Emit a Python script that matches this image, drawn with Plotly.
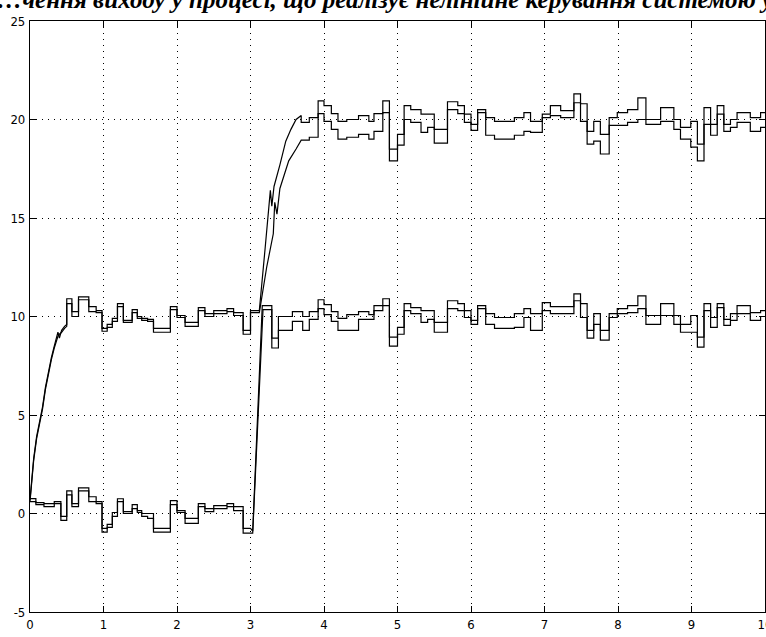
import plotly.graph_objects as go

# ---------------- data ----------------
# lower pair (around 0, then rising to 10 at t=3)
t_low_steps = [0, 0.08, 0.19, 0.33, 0.42, 0.50, 0.57, 0.66, 0.80, 0.90, 0.98, 1.05, 1.12,
               1.19, 1.27, 1.39, 1.46, 1.52, 1.60, 1.68, 1.91, 2.00, 2.11, 2.29, 2.38,
               2.50, 2.68, 2.77, 2.90, 3.00]
low_a = [0.76, 0.55, 0.5, 0.6, -0.15,
         1.15, 0.5, 1.3, 0.85, 0.6, -0.75, -0.55, 0.05, 0.75, 0.1, 0.45, 0.15, 0.0, 0.0,
         -0.75, 0.65, 0.15, -0.25, 0.5, 0.25, 0.4, 0.5, 0.35, -0.75]
low_b = [0.6, 0.45, 0.35, 0.5, -0.35,
         0.95, 0.35, 1.15, 0.6, 0.5, -0.95, -0.7, -0.15, 0.6, 0.0, 0.25, 0.05, -0.15, -0.25,
         -0.95, 0.45, 0.05, -0.5, 0.35, 0.1, 0.25, 0.35, 0.15, -1.0]
t_low_ramp_a = [3.00, 3.03, 3.16]
low_ramp_a = [-0.75, -0.9, 10.55]
t_low_ramp_b = [3.00, 3.03, 3.17]
low_ramp_b = [-1.0, -1.0, 10.35]

tail_steps = [3.92, 4.00, 4.10, 4.19, 4.31, 4.47, 4.61, 4.68, 4.80, 4.89, 5.00, 5.09, 5.18,
              5.32, 5.41, 5.50, 5.68, 5.82, 5.91, 6.00, 6.09, 6.20, 6.32, 6.59, 6.72, 6.81,
              6.97, 7.08, 7.22, 7.40, 7.49, 7.58, 7.67, 7.76, 7.88, 7.99, 8.13, 8.27, 8.38,
              8.58, 8.76, 8.85, 8.99, 9.08, 9.17, 9.26, 9.35, 9.44, 9.53, 9.62, 9.80, 9.94, 10.0]
t_mid_steps = [3.16, 3.29, 3.38, 3.57, 3.71, 3.80] + tail_steps
mid_a = [10.55, 8.9, 10.0, 10.25, 10.0, 10.25,
         10.85, 10.6, 10.25, 9.9, 10.1, 10.25, 10.1, 10.55, 10.9, 8.95,
         9.45, 10.65, 10.45, 10.3, 10.3, 9.7, 10.8, 10.65, 10.3, 9.8,
         10.55, 10.15, 9.95, 10.15, 10.4, 10.15, 10.7, 10.5, 10.5, 11.15,
         10.65, 9.3, 10.15, 9.3, 10.15, 10.4, 10.55, 11.05, 10.05, 10.65,
         10.05, 9.6, 10.05, 8.95, 10.65, 9.95, 10.65, 9.85, 10.15, 10.55,
         10.2, 10.3]
mid_b = [10.35, 8.4, 9.3, 9.75, 9.3, 9.85,
         10.4, 10.1, 9.75, 9.3, 9.3, 9.85, 9.85, 10.3, 10.55, 8.5,
         9.1, 10.3, 10.15, 9.7, 9.85, 9.2, 10.4, 10.3, 9.95, 9.6,
         10.4, 9.6, 9.4, 9.45, 9.95, 9.3, 10.3, 10.15, 10.15, 10.8,
         9.95, 8.9, 9.6, 8.8, 9.95, 10.15, 10.2, 10.4, 9.6, 10.05,
         9.6, 9.2, 9.2, 8.45, 10.3, 9.45, 10.45, 9.55, 9.8, 10.15,
         9.8, 10.0]

# upper pair (rising to 10, then to 20 at t=3)
t_up_rise = [0, 0.02, 0.05, 0.09, 0.13, 0.17, 0.21, 0.25, 0.29, 0.33, 0.36, 0.38, 0.40,
             0.43, 0.47, 0.50]
up_rise_a = [0.7, 1.6, 2.8, 3.9, 4.6, 5.4, 6.4, 7.2, 7.9, 8.5, 8.9, 9.2, 8.9, 9.3, 9.5, 9.6]
up_rise_b = [0.6, 1.5, 2.7, 3.8, 4.5, 5.3, 6.3, 7.1, 7.8, 8.4, 8.8, 9.0, 9.1, 9.2, 9.4, 9.5]
t_up_steps = [0.50, 0.57, 0.66, 0.80, 0.90, 0.98, 1.05, 1.12, 1.19, 1.27, 1.39, 1.46, 1.52,
              1.60, 1.68, 1.91, 2.00, 2.11, 2.29, 2.38, 2.50, 2.68, 2.77, 2.90, 3.00, 3.12]
up_a = [10.9, 10.25, 11.0, 10.5, 10.3, 9.4, 9.6, 9.9, 10.65, 9.8, 10.35, 10.0, 9.9, 9.85,
        9.4, 10.5, 10.05, 9.7, 10.45, 10.15, 10.3, 10.4, 10.2, 9.3, 10.3]
up_b = [10.65, 10.0, 10.85, 10.25, 10.2, 9.25, 9.45, 9.75, 10.5, 9.7, 10.2, 9.9, 9.8, 9.75,
        9.2, 10.35, 9.95, 9.5, 10.3, 10.0, 10.15, 10.25, 10.05, 9.1, 10.2]
t_up_ramp_a = [3.12, 3.20, 3.27, 3.29, 3.32, 3.40, 3.48, 3.55, 3.62, 3.69]
up_ramp_a = [10.3, 13.5, 16.4, 15.6, 16.6, 17.7, 18.9, 19.5, 20.0, 20.2]
t_up_ramp_b = [3.12, 3.22, 3.31, 3.33, 3.36, 3.40, 3.47, 3.52, 3.62, 3.69]
up_ramp_b = [10.2, 12.5, 14.2, 15.8, 15.2, 16.5, 17.3, 17.9, 18.5, 18.9]
t_top_steps = [3.69, 3.80] + tail_steps
top_a = [19.85, 20.1,
         20.95, 20.7, 20.3, 19.9, 20.0, 20.2, 19.9, 20.3, 20.95, 18.5,
         19.25, 20.7, 20.5, 20.27, 20.27, 19.5, 20.9, 20.7, 20.27, 19.75,
         20.5, 20.1, 19.9, 20.1, 20.35, 19.9, 20.27, 20.7, 20.45, 21.3,
         20.8, 19.4, 19.9, 19.25, 20.1, 20.35, 20.5, 21.1, 20.0, 20.6,
         20.0, 19.6, 19.9, 18.75, 20.6, 19.75, 20.7, 19.75, 20.0, 20.35,
         20.1, 20.35]
top_b = [18.95, 19.1,
         20.3, 19.9, 19.5, 19.0, 19.1, 19.25, 19.0, 19.4, 20.35, 17.9,
         18.7, 20.0, 19.85, 19.35, 19.6, 18.8, 20.5, 20.3, 19.85, 19.45,
         20.35, 19.2, 19.0, 19.2, 19.4, 19.35, 20.1, 20.2, 20.1, 20.85,
         19.9, 18.75, 18.9, 18.25, 19.7, 19.7, 19.85, 20.0, 19.75, 19.9,
         19.5, 19.0, 18.6, 17.9, 19.75, 19.2, 20.27, 19.4, 19.6, 19.85,
         19.4, 19.6]

x_ticks = list(range(0, 11))
y_ticks = [-5, 0, 5, 10, 15, 20, 25]
title_text = "…чення виходу у процесі, що реалізує нелінійне керування системою у…"


def steps(tb, vals):
    assert len(tb) == len(vals) + 1
    xs, ys = [], []
    for i, v in enumerate(vals):
        xs += [tb[i], tb[i + 1]]
        ys += [v, v]
    return xs, ys


def join(*parts):
    xs, ys = [], []
    for px, py in parts:
        xs += list(px)
        ys += list(py)
    return xs, ys


series = [
    join(steps(t_low_steps, low_a), (t_low_ramp_a, low_ramp_a), steps(t_mid_steps, mid_a)),
    join(steps(t_low_steps, low_b), (t_low_ramp_b, low_ramp_b), steps(t_mid_steps, mid_b)),
    join((t_up_rise, up_rise_a), steps(t_up_steps, up_a), (t_up_ramp_a, up_ramp_a),
         steps(t_top_steps, top_a)),
    join((t_up_rise, up_rise_b), steps(t_up_steps, up_b), (t_up_ramp_b, up_ramp_b),
         steps(t_top_steps, top_b)),
]

fig = go.Figure()
for xs, ys in series:
    fig.add_trace(go.Scatter(x=xs, y=ys, mode="lines",
                             line=dict(color="black", width=1.2), showlegend=False))

tick_font = dict(family="DejaVu Sans Condensed, Liberation Sans, Arial", size=13, color="black")
axis_common = dict(showgrid=True, gridcolor="black", griddash="1px,5px", gridwidth=1,
                   showline=True, linecolor="black", linewidth=1.2, mirror="ticks",
                   ticks="inside", ticklen=6, tickcolor="black", tickwidth=1,
                   zeroline=False, tickfont=tick_font, automargin=False,
                   ticklabeloverflow="allow")
fig.update_xaxes(range=[0, 10], tickvals=x_ticks, ticktext=[str(v) for v in x_ticks],
                 ticklabelstandoff=0, **axis_common)
fig.update_yaxes(range=[-5, 25], tickvals=y_ticks, ticktext=[str(v) for v in y_ticks],
                 ticklabelstandoff=1, **axis_common)

fig.add_annotation(text="<b><i>" + title_text + "</i></b>", xref="paper", yref="paper",
                   x=0.5, y=1.0, yshift=6, yanchor="bottom", showarrow=False,
                   font=dict(family="Liberation Serif", size=25, color="black"))

fig.update_layout(width=766, height=637, margin=dict(l=30, r=1, t=21, b=25),
                  paper_bgcolor="white", plot_bgcolor="white")
fig.write_html("out.html", config={"displayModeBar": False},
               post_script="document.body.style.margin='0';")
